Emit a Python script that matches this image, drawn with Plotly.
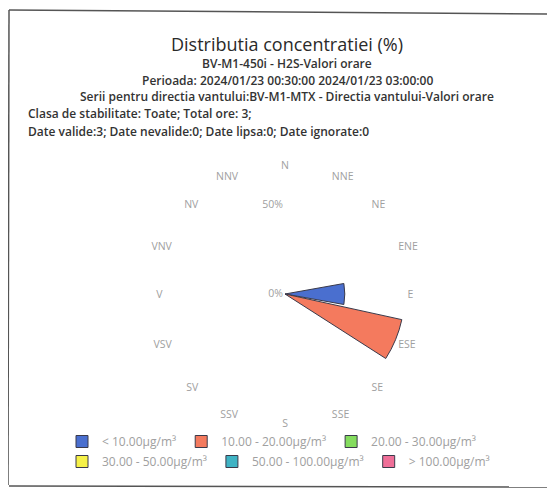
import plotly.graph_objects as go

W, H = 555, 490
OFF = 8  # page body margin

directions = ["N", "NNE", "NE", "ENE", "E", "ESE", "SE", "SSE",
              "S", "SSV", "SV", "VSV", "V", "VNV", "NV", "NNV"]

class_names = ["< 10.00µg/m³", "10.00 - 20.00µg/m³", "20.00 - 30.00µg/m³",
               "30.00 - 50.00µg/m³", "50.00 - 100.00µg/m³", "> 100.00µg/m³"]
class_colors = ["#4a6fcf", "#f47a5e", "#84dc5e", "#f6f148", "#3fb3c4", "#ef6f98"]

# percentage of hours per direction, per concentration class
cls_lt10   = [0, 0, 0, 0, 33.33, 0, 0, 0, 0, 0, 0, 0, 0, 0, 0, 0]
cls_10_20  = [0, 0, 0, 0, 0, 66.67, 0, 0, 0, 0, 0, 0, 0, 0, 0, 0]
cls_20_30  = [0] * 16
cls_30_50  = [0] * 16
cls_50_100 = [0] * 16
cls_gt100  = [0] * 16
series = [cls_lt10, cls_10_20, cls_20_30, cls_30_50, cls_50_100, cls_gt100]

radial_ticks = [0, 50]
radial_ticktext = ["0%", "50%"]

title = "Distributia concentratiei (%)"
sub_center = ["BV-M1-450i - H2S-Valori orare",
              "Perioada: 2024/01/23 00:30:00 2024/01/23 03:00:00",
              "Serii pentru directia vantului:BV-M1-MTX - Directia vantului-Valori orare"]
sub_left = ["Clasa de stabilitate: Toate; Total ore: 3;",
            "Date valide:3; Date nevalide:0; Date lipsa:0; Date ignorate:0"]

fig = go.Figure()
for i, (name, col, vals) in enumerate(zip(class_names, class_colors, series)):
    fig.add_trace(go.Barpolar(
        r=vals, theta=directions, name=name,
        legend="legend" if i < 3 else "legend2",
        marker=dict(color=col, line=dict(color="#3a3a4a", width=1)),
    ))

def px(x):
    return (x - OFF) / W

def py(y):
    return 1 - (y - OFF) / H

cx, cy, R = 285, 294, 122

legend_common = dict(orientation="h", xanchor="left", yanchor="top",
                     font=dict(size=12, color="#a0a0a0"), itemwidth=30,
                     traceorder="normal", bgcolor="rgba(0,0,0,0)")

fig.update_layout(
    width=W, height=H,
    margin=dict(l=0, r=0, t=0, b=0),
    paper_bgcolor="white",
    font=dict(family="Open Sans", color="#333333"),
    polar=dict(
        domain=dict(x=[px(cx - R), px(cx + R)], y=[py(cy + R), py(cy - R)]),
        bgcolor="white",
        angularaxis=dict(direction="clockwise", rotation=90, type="category",
                         categoryarray=directions,
                         showgrid=False, showline=False, ticks="",
                         tickfont=dict(size=10.5, color="#a0a0a0")),
        radialaxis=dict(range=[0, 68], angle=90, tickangle=90,
                        tickvals=radial_ticks, ticktext=radial_ticktext,
                        showgrid=False, showline=False, ticks="",
                        side="counterclockwise",
                        tickfont=dict(size=10.5, color="#a0a0a0")),
    ),
    barmode="stack",
    showlegend=True,
    legend=dict(x=px(62), y=py(427), **legend_common),
    legend2=dict(x=px(62), y=py(447), **legend_common),
)

ann = [dict(text=title, x=px(287), y=py(44), xref="paper", yref="paper",
            showarrow=False, font=dict(size=18, color="#2a2a2a"),
            xanchor="center", yanchor="middle")]
for i, t in enumerate(sub_center):
    ann.append(dict(text=t, x=px(287), y=py([63, 80, 96.5][i]), xref="paper", yref="paper",
                    showarrow=False, font=dict(size=12, color="#333333", weight=600),
                    xanchor="center", yanchor="middle"))
for i, t in enumerate(sub_left):
    ann.append(dict(text=t, x=px(26), y=py([113.5, 131][i]), xref="paper", yref="paper",
                    showarrow=False, font=dict(size=12, color="#333333", weight=600),
                    xanchor="left", yanchor="middle"))
fig.update_layout(annotations=ann)

border = [((8, 9), (553, 14)), ((8, 9), (8, 485)), ((8, 485), (553, 487))]
shapes = []
for (x0, y0), (x1, y1) in border:
    shapes.append(dict(type="line", xref="paper", yref="paper",
                       x0=px(x0 + 1), y0=py(y0 + 1), x1=px(x1), y1=py(y1),
                       line=dict(color="#555555", width=1.5)))
shapes.append(dict(type="line", xref="paper", yref="paper",
                   x0=px(551), y0=py(14), x1=px(551), y1=py(487),
                   line=dict(color="#dddddd", width=1)))
fig.update_layout(shapes=shapes)

fig.write_html("out.html")
